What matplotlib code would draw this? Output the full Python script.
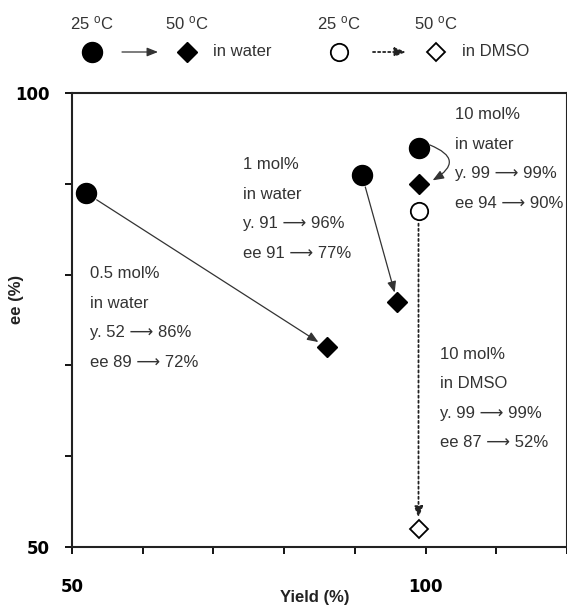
import matplotlib
matplotlib.use("Agg")
import matplotlib.pyplot as plt

plt.rcParams['font.family'] = ['Liberation Sans', 'DejaVu Sans']
plt.rcParams['mathtext.fontset'] = 'custom'
plt.rcParams['mathtext.rm'] = 'Liberation Sans'
plt.rcParams['mathtext.default'] = 'regular'

# data: catalyst loading runs, 25 C -> 50 C
water_yield_25 = [52, 91, 99]
water_ee_25 = [89, 91, 94]
water_yield_50 = [86, 96, 99]
water_ee_50 = [72, 77, 90]
dmso_yield_25 = [99]
dmso_ee_25 = [87]
dmso_yield_50 = [99]
dmso_ee_50 = [52]

loadings = ['0.5 mol%', '1 mol%', '10 mol%']
dmso_loading = '10 mol%'

# where each text block goes (data coords of first line, left aligned)
block_pos = [(52.55, 80.1), (74.2, 92.15), (104.2, 97.65)]
dmso_block_pos = (102.0, 71.25)

ARR = '\u27f6'
txtc = '#333333'
fig = plt.figure(figsize=(5.67, 6.05), dpi=100)
ax = fig.add_axes([0.127, 0.0959, 0.873, 0.750])

ax.set_xlim(50, 120)
ax.set_ylim(50, 100)

ax.plot(water_yield_25, water_ee_25, 'o', color='black', ms=14.4, zorder=3)
ax.plot(water_yield_50, water_ee_50, 'D', color='black', ms=10.5, zorder=3)
ax.plot(dmso_yield_25, dmso_ee_25, 'o', mfc='white', mec='black', ms=12.5, mew=1.3, zorder=3)
ax.plot(dmso_yield_50, dmso_ee_50, 'D', mfc='white', mec='black', ms=9.5, mew=1.3, zorder=3)

arrow_kw = dict(arrowstyle='-|>,head_length=0.55,head_width=0.22', color=txtc, lw=0.9,
                mutation_scale=12)
# straight arrows for the two lower loadings
for i in range(2):
    ax.annotate('', xy=(water_yield_50[i], water_ee_50[i]),
                xytext=(water_yield_25[i], water_ee_25[i]),
                arrowprops=dict(shrinkA=9, shrinkB=7, **arrow_kw))
# curved arrow for 10 mol% in water
ax.annotate('', xy=(water_yield_50[2] + 2.0, water_ee_50[2] + 0.4),
            xytext=(water_yield_25[2] + 1.6, water_ee_25[2] + 0.3),
            arrowprops=dict(shrinkA=0, shrinkB=0, connectionstyle='arc3,rad=-1.0', **arrow_kw))
# dotted arrow in DMSO
ax.annotate('', xy=(dmso_yield_50[0], dmso_ee_50[0]),
            xytext=(dmso_yield_25[0], dmso_ee_25[0]),
            arrowprops=dict(arrowstyle='-|>,head_length=0.55,head_width=0.22', color='#222222',
                            lw=1.3, linestyle=(0, (1.2, 1.6)), mutation_scale=12,
                            shrinkA=9, shrinkB=8))

def block(pos, lines):
    for k, s in enumerate(lines):
        ax.annotate(s, xy=pos, xytext=(0, -21.3 * k), textcoords='offset points',
                    ha='left', va='center', fontsize=12, color=txtc)

for i in range(3):
    block(block_pos[i], [loadings[i], 'in water',
                         'y. %d %s %d%%' % (water_yield_25[i], ARR, water_yield_50[i]),
                         'ee %d %s %d%%' % (water_ee_25[i], ARR, water_ee_50[i])])
block(dmso_block_pos, [dmso_loading, 'in DMSO',
                       'y. %d %s %d%%' % (dmso_yield_25[0], ARR, dmso_yield_50[0]),
                       'ee %d %s %d%%' % (dmso_ee_25[0], ARR, dmso_ee_50[0])])

# axes styling
for sp in ax.spines.values():
    sp.set_linewidth(1.5)
    sp.set_color('#222222')
ax.set_xticks(range(50, 121, 10))
ax.set_xticklabels(['50', '', '', '', '', '100', '', ''])
ax.set_yticks(range(50, 101, 10))
ax.set_yticklabels(['50', '', '', '', '', '100'])
ax.tick_params(axis='x', direction='out', length=5, width=1.3, pad=17)
ax.tick_params(axis='y', direction='out', length=5, width=1.3, pad=11)
for lab in ax.get_xticklabels() + ax.get_yticklabels():
    lab.set_fontfamily('DejaVu Sans')
    lab.set_fontweight('bold')
    lab.set_fontsize(12)
ax.set_xlabel('Yield (%)', fontsize=12, fontweight='bold', color='#222222')
ax.set_ylabel('ee (%)', fontsize=12, fontweight='bold', color='#222222')
ax.xaxis.set_label_coords(0.49, -0.095)
ax.yaxis.set_label_coords(-0.097, 0.545)

# legend across the top, drawn in pixel space of an overlay axes
lg = fig.add_axes([0, 0, 1, 1], facecolor='none')
lg.set_xlim(0, 567)
lg.set_ylim(605, 0)
lg.axis('off')
lg.plot([92], [52], 'o', color='black', ms=14.4)
lg.plot([187], [52], 'D', color='black', ms=10.5)
lg.plot([339], [52], 'o', mfc='white', mec='black', ms=12.5, mew=1.3)
lg.plot([436], [52], 'D', mfc='white', mec='black', ms=9.5, mew=1.3)
lg.annotate('', xy=(158, 52), xytext=(122, 52),
            arrowprops=dict(shrinkA=0, shrinkB=0, **arrow_kw))
lg.annotate('', xy=(406, 52), xytext=(373, 52),
            arrowprops=dict(arrowstyle='-|>,head_length=0.55,head_width=0.22', color='#222222',
                            lw=1.3, linestyle=(0, (1.2, 1.6)), mutation_scale=12,
                            shrinkA=0, shrinkB=0))
for x, s in [(92, '25 $^{o}$C'), (187, '50 $^{o}$C'), (339, '25 $^{o}$C'), (436, '50 $^{o}$C')]:
    lg.text(x, 23, s, ha='center', va='center', fontsize=12, color=txtc)
lg.text(213, 52, 'in water', ha='left', va='center', fontsize=12, color=txtc)
lg.text(462, 52, 'in DMSO', ha='left', va='center', fontsize=12, color=txtc)

fig.savefig('out.png', dpi=100)
